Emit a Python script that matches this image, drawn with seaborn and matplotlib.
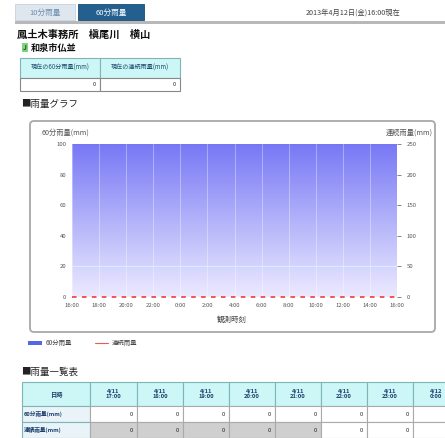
import numpy as np
import pandas as pd
import matplotlib
matplotlib.use('Agg')
import matplotlib.pyplot as plt
import seaborn as sns
from matplotlib.patches import Rectangle, FancyBboxPatch
from matplotlib.colors import LinearSegmentedColormap

sns.set_theme(style='white')
plt.rcParams['font.family'] = ['Noto Sans CJK JP', 'DejaVu Sans']

# ---- data ----
obs_hours = ['16:00', '17:00', '18:00', '19:00', '20:00', '21:00', '22:00', '23:00',
             '0:00', '1:00', '2:00', '3:00', '4:00', '5:00', '6:00', '7:00',
             '8:00', '9:00', '10:00', '11:00', '12:00', '13:00', '14:00', '15:00', '16:00']
rain_60 = [0, 0, 0, 0, 0, 0, 0, 0, 0, 0, 0, 0, 0, 0, 0, 0, 0, 0, 0, 0, 0, 0, 0, 0, 0]
rain_total = [0, 0, 0, 0, 0, 0, 0, 0, 0, 0, 0, 0, 0, 0, 0, 0, 0, 0, 0, 0, 0, 0, 0, 0, 0]
left_ticks = [0, 20, 40, 60, 80, 100]
right_ticks = [0, 50, 100, 150, 200, 250]

table_times = ['4/11\n17:00', '4/11\n18:00', '4/11\n19:00', '4/11\n20:00',
               '4/11\n21:00', '4/11\n22:00', '4/11\n23:00', '4/12\n0:00']
table_60 = [0, 0, 0, 0, 0, 0, 0, 0]
table_total = [0, 0, 0, 0, 0, 0, 0, 0]

now_60 = 0
now_total = 0

df = pd.DataFrame({'idx': range(len(obs_hours)), 'hour': obs_hours,
                   'rain_60': rain_60, 'rain_total': rain_total})

W, H = 445, 438
fig = plt.figure(figsize=(W / 100, H / 100), dpi=100)
page = fig.add_axes([0, 0, 1, 1])
page.set_xlim(0, W)
page.set_ylim(H, 0)
page.axis('off')


def px_axes(x0, y0, x1, y1):
    return fig.add_axes([x0 / W, 1 - y1 / H, (x1 - x0) / W, (y1 - y0) / H])


def cell(x0, y0, x1, y1, face, text='', ha='center', color='#222222', size=4, bold=False,
         edge='#7fb5b5'):
    page.add_patch(Rectangle((x0, y0), x1 - x0, y1 - y0, facecolor=face, edgecolor=edge, lw=0.8))
    if text == '':
        return
    if ha == 'right':
        tx = x1 - 4
    elif ha == 'left':
        tx = x0 + 2
    else:
        tx = (x0 + x1) / 2
    page.text(tx, (y0 + y1) / 2, text, ha=ha, va='center', fontsize=size, color=color,
              fontweight='bold' if bold else 'normal', linespacing=1.1)


# ---- top tabs ----
page.add_patch(Rectangle((15, 4), 60, 16, facecolor='#dfe7ee', edgecolor='#c8d2dc', lw=0.6))
page.text(45, 12.5, '10分雨量', ha='center', va='center', fontsize=5.5, color='#6f8fb0')
page.add_patch(Rectangle((78, 4), 66, 16, facecolor='#235f8f', edgecolor='#1a4c74', lw=0.6))
page.text(111, 12.5, '60分雨量', ha='center', va='center', fontsize=5.5, color='white')
page.text(306, 12.5, '2013年4月12日(金)16:00現在', ha='left', va='center', fontsize=5.2,
          color='#444444')
page.add_patch(Rectangle((15, 21), 430, 3, facecolor='#b8b8b8', edgecolor='none'))

page.text(17, 35, '鳳土木事務所　槇尾川　横山', ha='left', va='center', fontsize=7.4,
          fontweight='bold', color='#111111')
page.add_patch(Rectangle((22, 43), 6, 9, facecolor='#7fd37f', edgecolor='none'))
page.text(25, 47.5, 'J', ha='center', va='center', fontsize=5, color='#225522', fontweight='bold')
page.text(31, 48, '和泉市仏並', ha='left', va='center', fontsize=6.6, fontweight='bold',
          color='#111111')

# small current table
cell(20, 58, 100, 78, '#cdf6f6', '現在の60分雨量(mm)', size=4.4, color='#1b4f6f')
cell(100, 58, 180, 78, '#cdf6f6', '現在の連続雨量(mm)', size=4.4, color='#1b4f6f')
cell(20, 78, 100, 91, 'white', str(now_60), ha='right', edge='#888888')
cell(100, 78, 180, 91, 'white', str(now_total), ha='right', edge='#888888')

page.text(21, 104, '■雨量グラフ', ha='left', va='center', fontsize=6.8, color='#222222')

# ---- chart box ----
page.add_patch(FancyBboxPatch((30, 121), 405, 211, boxstyle='round,pad=0,rounding_size=4',
                              facecolor='white', edgecolor='#a8a8a8', lw=1.3))
page.text(42, 133, '60分雨量(mm)', ha='left', va='center', fontsize=5.2, color='#555555')
page.text(433, 133, '連続雨量(mm)', ha='right', va='center', fontsize=5.2, color='#555555')
page.text(232, 320, '観測時刻', ha='center', va='center', fontsize=5.4, color='#444444')

ax = px_axes(72, 144, 397, 297)
grad = LinearSegmentedColormap.from_list('g', ['#eceaff', '#b2b2fa', '#7777f5'])
n = len(obs_hours) - 1
ax.imshow(np.linspace(1, 0, 256).reshape(-1, 1), cmap=grad, aspect='auto',
          extent=[0, n, 0, 100], zorder=0)
sns.barplot(data=df, x='idx', y='rain_60', native_scale=True, color='#5566dd', ax=ax, zorder=2)
ax.set_xlim(0, n)
ax.set_ylim(0, 100)
ax.set_yticks(left_ticks)
ax.set_xticks(df['idx'][::2])
ax.set_xticklabels(df['hour'][::2])
for x in df['idx'][::2]:
    ax.axvline(x, color='white', lw=0.5, alpha=0.5, zorder=1)
ax.axhline(20, color='#d8f4ff', lw=0.6, zorder=1)
ax.set_xlabel('')
ax.set_ylabel('')
ax.tick_params(axis='both', labelsize=4.3, colors='#555555', length=0, pad=4)
for s in ax.spines.values():
    s.set_visible(False)

ax2 = ax.twinx()
sns.lineplot(data=df, x='idx', y='rain_total', ax=ax2, color='#ee2b2b', lw=1.1,
             linestyle=(0, (3, 3.5)), clip_on=False)
ax2.set_ylim(0, 250)
ax2.set_yticks(right_ticks)
ax2.set_ylabel('')
ax2.set_xlabel('')
ax2.tick_params(axis='y', labelsize=4.3, colors='#555555', length=3, width=0.5, pad=4)
for s in ax2.spines.values():
    s.set_visible(False)

# legend below chart
page.add_patch(Rectangle((28, 341), 14, 4, facecolor='#5468e6', edgecolor='none'))
page.text(46, 343, '60分雨量', ha='left', va='center', fontsize=4.6, color='#444444')
page.plot([95, 108], [342.5, 342.5], color='#e85a5a', lw=0.8)
page.text(112, 343, '連続雨量', ha='left', va='center', fontsize=4.6, color='#444444')

# ---- list table ----
page.text(21, 372, '■雨量一覧表', ha='left', va='center', fontsize=6.8, color='#222222')
col_edges = [22, 90, 137, 183, 229, 275, 321, 367, 413, 459]
cell(col_edges[0], 382, col_edges[1], 406, '#cdf6f6', '日時', size=4.5, color='#1b3f6f', bold=True)
cell(col_edges[0], 406, col_edges[1], 422, '#eaf3f8', '60分雨量(mm)', ha='left', size=4.1,
     color='#1b3f6f', bold=True)
cell(col_edges[0], 422, col_edges[1], 438, '#eaf3f8', '連続雨量(mm)', ha='left', size=4.1,
     color='#1b3f6f', bold=True)
for i, t in enumerate(table_times):
    x0, x1 = col_edges[i + 1], col_edges[i + 2]
    last = i == len(table_times) - 1
    cell(x0, 382, x1, 406, '#cdf6f6', t, size=4.2, color='#1b3f6f', bold=True)
    cell(x0, 406, x1, 422, 'white', '' if last else str(table_60[i]), ha='right', size=4.2,
         edge='#aaaaaa')
    face = '#cfcfcf' if i < 5 else 'white'
    cell(x0, 422, x1, 438, face, '' if last else str(table_total[i]), ha='right', size=4.2,
         edge='#aaaaaa')

fig.savefig('out.png', dpi=100)
